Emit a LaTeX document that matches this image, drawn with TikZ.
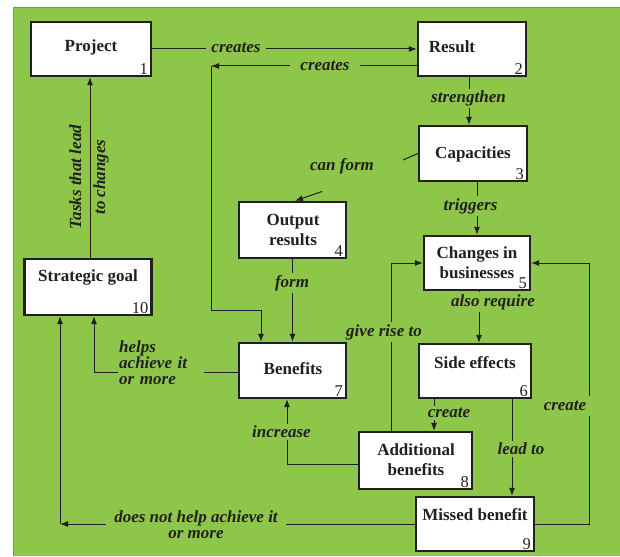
\documentclass[tikz,border=0pt]{standalone}
\usepackage{fontspec}
\setmainfont{Liberation Serif}
\usetikzlibrary{arrows.meta}
\definecolor{bg}{RGB}{141,198,72}
\definecolor{edgec}{RGB}{60,180,90}
\definecolor{ink}{RGB}{35,31,32}
\begin{document}
\begin{tikzpicture}[x=1pt,y=-1pt,
  box/.style={draw=ink, line width=2.2pt, fill=white, inner sep=0pt},
  btext/.style={font=\fontsize{17}{19.5}\selectfont\bfseries, text=ink, align=center, inner sep=0pt},
  num/.style={font=\fontsize{16.5}{16.5}\selectfont, text=ink, anchor=south east, inner xsep=4pt, inner ysep=2.5pt},
  lab/.style={font=\fontsize{17}{16}\selectfont\bfseries\itshape, text=ink, fill=bg, inner xsep=5pt, inner ysep=2pt, align=center},
  conn/.style={draw=ink, line width=1pt},
  arr/.style={conn, -{Latex[length=8pt,width=6pt]}}
]
\useasboundingbox (0,0) rectangle (620,556);
\fill[bg] (13,8) rectangle (620,556);
\draw[edgec, line width=1pt] (13,556) -- (13,8) -- (620,8);

% boxes
\node[box, minimum width=120pt, minimum height=54pt] (n1) at (91,49) {};
\node[box, minimum width=108pt, minimum height=54pt] (n2) at (472,49) {};
\node[box, minimum width=108pt, minimum height=55pt] (n3) at (473,153.5) {};
\node[box, minimum width=107pt, minimum height=56pt] (n4) at (292.5,230) {};
\node[box, minimum width=106pt, minimum height=54pt] (n5) at (477,263) {};
\node[box, minimum width=112pt, minimum height=54pt] (n6) at (475,371) {};
\node[box, minimum width=107pt, minimum height=55pt] (n7) at (292.5,370.5) {};
\node[box, minimum width=113pt, minimum height=57pt] (n8) at (415.5,460.5) {};
\node[box, minimum width=118pt, minimum height=54pt] (n9) at (475,524) {};
\node[box, minimum width=127pt, minimum height=56pt] (n10) at (88,287) {};

% box texts
\node[btext, anchor=base] (t1) at (91,52) {Project};
\node[btext, anchor=base] (t2) at (452,52.5) {Result};
\node[btext, anchor=base] (t3) at (473,159) {Capacities};
\node[btext, anchor=base] (t4) at (293,245) {Output\\results};
\node[btext, anchor=base] (t5) at (477,278) {Changes in\\businesses};
\node[btext, anchor=base] (t6) at (475,368) {Side effects};
\node[btext, anchor=base] (t7) at (293,374) {Benefits};
\node[btext, anchor=base] (t8) at (416,475) {Additional\\benefits};
\node[btext, anchor=base] (t9) at (475,520) {Missed benefit};
\node[btext, anchor=base] (t10) at (88,281.5) {Strategic goal};

% numbers
\node[num] (d1) at (n1.south east) {1};
\node[num] (d2) at (n2.south east) {2};
\node[num] (d3) at (n3.south east) {3};
\node[num] (d4) at (n4.south east) {4};
\node[num] (d5) at (n5.south east) {5};
\node[num] (d6) at (n6.south east) {6};
\node[num] (d7) at (n7.south east) {7};
\node[num] (d8) at (n8.south east) {8};
\node[num] (d9) at (n9.south east) {9};
\node[num] (d10) at (n10.south east) {10};

% helper coordinates
\coordinate (ca) at (211,66);
\coordinate (cb) at (261,310);
\coordinate (cf1) at (403,160);
\coordinate (cf2) at (322,191.5);
\coordinate (rc) at (589,0);
\coordinate (lc) at (60,0);

% connectors
\draw[arr] (n1.east) -- (n2.west);
\draw[arr] (n2.west |- ca) -- (ca);
\draw[arr] (ca) |- (cb) -- (cb |- n7.north);
\draw[arr] ([xshift=-3pt]n2.south) -- ([xshift=-4pt]n3.north);
\draw[conn] (n3.west) -- (cf1);
\draw[arr] (cf2) -- ([xshift=2.5pt]n4.north);
\draw[arr] ([xshift=4pt]n3.south) -- (n5.north);
\draw[arr] (n4.south) -- (n7.north);
\draw[arr] ([xshift=2pt]n5.south) -- ([xshift=4pt]n6.north);
\draw[arr] ([xshift=-24.5pt]n8.north) |- (n5.west);
\draw[arr] ([xshift=-41pt]n6.south) -- ([xshift=18.5pt]n8.north);
\draw[arr] ([xshift=37pt]n6.south) -- ([xshift=37pt]n9.north);
\draw[arr] (n9.east) -- (n9.east -| rc) -- (rc |- n5.east) -- (n5.east);
\draw[arr] ([yshift=-3.5pt]n8.west) -| ([xshift=-5.5pt]n7.south);
\draw[arr] ([yshift=-1.5pt]n7.west) -| ([xshift=6pt]n10.south);
\draw[arr] (n9.west) -- (n9.west -| lc);
\draw[arr] (n9.west -| lc) -- (lc |- n10.south);
\draw[arr] ([xshift=2pt]n10.north) -- ([xshift=-1pt]n1.south);

% labels
\node[lab] (l1) at (236,48) {creates};
\node[lab, inner xsep=10pt] (l2) at (325,66) {creates};
\node[lab] (l3) at (468.5,98.5) {strengthen};
\node[lab] (l4) at (342,166) {can form};
\node[lab] (l5) at (470.5,206) {triggers};
\node[lab] (l6) at (292,283) {form};
\node[lab] (l7) at (493,302) {also require};
\node[lab] (l8) at (384,332) {give rise to};
\node[lab] (l9) at (449,413) {create};
\node[lab] (l10) at (281.5,432) {increase};
\node[lab] (l11) at (521,449) {lead to};
\node[lab, inner xsep=9pt, inner ysep=5pt] (l12) at (565,406) {create};
\node[lab, anchor=west, text width=84pt, align=left, inner xsep=1pt] (l13) at (118,363) {helps\\achieve it\\or more};
\node[lab, inner xsep=8pt] (l14) at (196,525) {does not help achieve it\\or more};
\node[font=\fontsize{17}{24}\selectfont\bfseries\itshape, text=ink, align=center, rotate=90, inner sep=0pt] (l15) at (89,177) {Tasks that lead\\to changes};
\end{tikzpicture}
\end{document}
